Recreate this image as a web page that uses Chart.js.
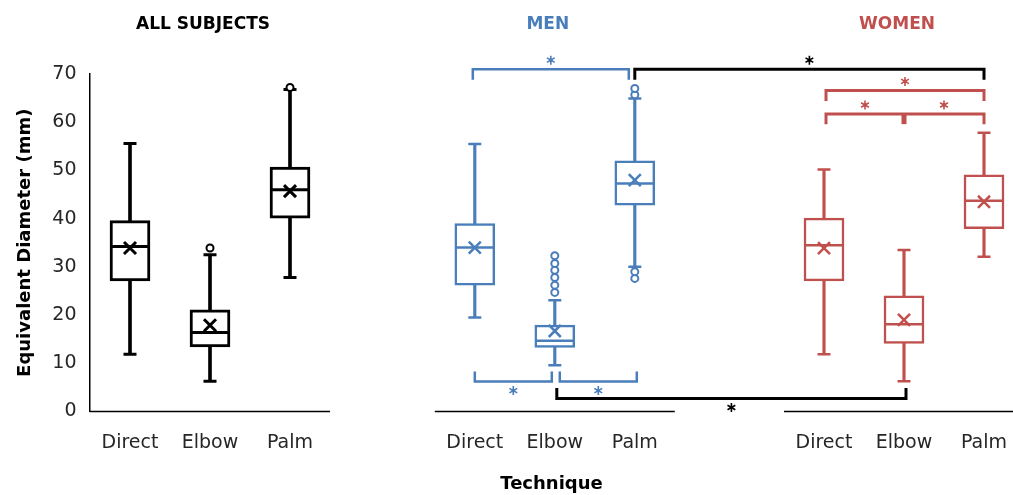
<!DOCTYPE html>
<html>
<head>
<meta charset="utf-8">
<script src="https://cdn.jsdelivr.net/npm/chart.js@4.4.0/dist/chart.umd.min.js"></script>
<style>
  html, body { margin: 0; padding: 0; background: #fff; }
  #wrap { position: relative; width: 1013px; height: 495px; }
</style>
</head>
<body>
<div id="wrap"><canvas id="chart"></canvas></div>
<script>
// values
// order: all subjects (Direct, Elbow, Palm), men (...), women (...)
let groups = ["ALL SUBJECTS", "MEN", "WOMEN"];
let techniques = ["Direct", "Elbow", "Palm"];
let whiskerLow = [11.9, 6.3, 27.8, 19.5, 9.6, 30.0, 11.9, 6.3, 32.1];
let quartile1 = [27.1, 13.4, 40.1, 26.2, 13.3, 42.8, 27.1, 14.1, 37.9];
let medians = [34.2, 16.4, 46.0, 34.0, 14.7, 47.3, 34.5, 18.1, 43.7];
let quartile3 = [39.6, 21.1, 50.7, 39.0, 17.9, 52.0, 40.1, 24.0, 49.1];
let whiskerHigh = [55.6, 32.5, 66.8, 55.5, 23.1, 64.9, 50.2, 33.5, 57.8];
let means = [33.9, 17.9, 45.7, 34.0, 16.7, 48.0, 33.9, 19.0, 43.5];
let outliers = [
  [], [33.9], [67.2],
  [], [24.7, 26.2, 27.8, 29.3, 30.7, 32.3], [27.6, 29.0, 65.7, 67.0],
  [], [], [],
];
let yTicks = [0, 10, 20, 30, 40, 50, 60, 70];

// significance brackets: box index from / to, level (mm) and tip (mm)
let brackets = [
  { from: 3, to: 5, level: 71.0, tip: 68.8, group: 1, dx: [-2, -6], up: true },
  { from: 5, to: 8, level: 71.0, tip: 68.8, group: 0, dx: [0, 0], up: true },
  { from: 6, to: 8, level: 66.6, tip: 64.4, group: 2, dx: [2, 0], up: true },
  { from: 6, to: 8, level: 61.7, tip: 59.6, group: 2, dx: [2, 0], up: true, mid: 7 },
  { from: 3, to: 4, level: 6.2, tip: 8.3, group: 1, dx: [0, -3], up: false },
  { from: 4, to: 5, level: 6.2, tip: 8.3, group: 1, dx: [5, 2], up: false },
  { from: 4, to: 7, level: 2.7, tip: 4.9, group: 0, dx: [2, 2], up: false },
];

let colors = ["#000000", "#4a7ebb", "#c0504d"];
let lineWidths = [3, 2.5, 2.5];
let groupStart = [0, 4.31, 8.675];

let xs = [];
for (let g = 0; g < 3; g++) {
  for (let t = 0; t < 3; t++) {
    xs.push(groupStart[g] + 0.5 + t);
  }
}

let datasets = [];
for (let g = 0; g < 3; g++) {
  let idx = [3 * g, 3 * g + 1, 3 * g + 2];
  let color = colors[g];
  let w = lineWidths[g];
  datasets.push({
    type: "bar",
    data: idx.map((i) => ({ x: xs[i], y: [whiskerLow[i], whiskerHigh[i]] })),
    backgroundColor: color,
    borderWidth: 0,
    barThickness: w,
    grouped: false,
    order: 5,
  });
  datasets.push({
    type: "bar",
    data: idx.map((i) => ({ x: xs[i], y: [quartile1[i], quartile3[i]] })),
    backgroundColor: "#ffffff",
    borderColor: color,
    borderWidth: w,
    borderSkipped: false,
    barThickness: 40,
    grouped: false,
    order: 4,
  });
  let caps = [];
  for (let i of idx) {
    caps.push({ x: xs[i], y: whiskerLow[i] });
    caps.push({ x: xs[i], y: whiskerHigh[i] });
  }
  datasets.push({
    type: "scatter",
    data: caps,
    pointStyle: "line",
    pointRadius: 6.5,
    pointBorderWidth: w,
    pointBorderColor: color,
    order: 3,
  });
  datasets.push({
    type: "scatter",
    data: idx.map((i) => ({ x: xs[i], y: medians[i] })),
    pointStyle: "line",
    pointRadius: 19,
    pointBorderWidth: w,
    pointBorderColor: color,
    order: 2,
  });
  datasets.push({
    type: "scatter",
    data: idx.map((i) => ({ x: xs[i], y: means[i] })),
    pointStyle: "crossRot",
    pointRadius: 8.5,
    pointBorderWidth: w,
    pointBorderColor: color,
    order: 1,
  });
  let outs = [];
  for (let i of idx) {
    for (let v of outliers[i]) {
      outs.push({ x: xs[i], y: v });
    }
  }
  datasets.push({
    type: "scatter",
    data: outs,
    pointStyle: "circle",
    pointRadius: 3.5,
    pointBackgroundColor: "#ffffff",
    pointBorderWidth: 2,
    pointBorderColor: color,
    order: 0,
  });
}

function drawStar(ctx, x, y, color) {
  ctx.save();
  ctx.strokeStyle = color;
  ctx.lineWidth = 1.6;
  ctx.beginPath();
  for (let k = 0; k < 3; k++) {
    let a = (Math.PI / 3) * k + Math.PI / 2;
    ctx.moveTo(x - Math.cos(a) * 4.5, y - Math.sin(a) * 4.5);
    ctx.lineTo(x + Math.cos(a) * 4.5, y + Math.sin(a) * 4.5);
  }
  ctx.stroke();
  ctx.fillStyle = color;
  ctx.beginPath();
  ctx.arc(x, y, 1.8, 0, Math.PI * 2);
  ctx.fill();
  ctx.restore();
}

let extras = {
  id: "extras",
  afterDraw(chart) {
    let ctx = chart.ctx;
    let xScale = chart.scales.x;
    let yScale = chart.scales.y;
    ctx.save();
    // x axis pieces, one for each group
    ctx.strokeStyle = "#000";
    ctx.lineWidth = 1.5;
    let y0 = yScale.getPixelForValue(0);
    for (let g = 0; g < 3; g++) {
      let a = xScale.getPixelForValue(groupStart[g]);
      let b = Math.min(xScale.getPixelForValue(groupStart[g] + 3), chart.width);
      ctx.beginPath();
      ctx.moveTo(a, y0);
      ctx.lineTo(b, y0);
      ctx.stroke();
    }
    // group titles
    ctx.font = "bold 17px 'DejaVu Sans'";
    ctx.textAlign = "center";
    ctx.textBaseline = "middle";
    for (let g = 0; g < 3; g++) {
      ctx.fillStyle = colors[g];
      ctx.fillText(groups[g], xScale.getPixelForValue(xs[3 * g + 1]) - 7, 25);
    }
    // brackets
    ctx.lineJoin = "miter";
    ctx.lineCap = "butt";
    for (let br of brackets) {
      let color = colors[br.group];
      let x1 = xScale.getPixelForValue(xs[br.from]) + br.dx[0];
      let x2 = xScale.getPixelForValue(xs[br.to]) + br.dx[1];
      let yl = yScale.getPixelForValue(br.level);
      let yt = yScale.getPixelForValue(br.tip);
      ctx.strokeStyle = color;
      ctx.lineWidth = br.group == 1 ? 2.5 : 3;
      ctx.beginPath();
      ctx.moveTo(x1, yt);
      ctx.lineTo(x1, yl);
      ctx.lineTo(x2, yl);
      ctx.lineTo(x2, yt);
      ctx.stroke();
      let sy = br.up ? yl - 9 : yl + 9;
      if (br.mid !== undefined) {
        let xm = xScale.getPixelForValue(xs[br.mid]);
        ctx.lineWidth = 5;
        ctx.beginPath();
        ctx.moveTo(xm, yl);
        ctx.lineTo(xm, yt);
        ctx.stroke();
        drawStar(ctx, (x1 + xm) / 2, sy, color);
        drawStar(ctx, (xm + x2) / 2, sy, color);
      } else {
        drawStar(ctx, (x1 + x2) / 2, sy, color);
      }
    }
    ctx.restore();
  },
};

let tickFont = { family: "'DejaVu Sans'", size: 19 };
let titleFont = { family: "'DejaVu Sans'", size: 18, weight: "bold" };

let chart = new Chart(document.getElementById("chart"), {
  type: "bar",
  data: { datasets: datasets },
  options: {
    responsive: true,
    maintainAspectRatio: false,
    animation: false,
    events: [],
    layout: { autoPadding: false, padding: { top: 74, left: 0, right: 0, bottom: 0 } },
    plugins: { legend: { display: false }, tooltip: { enabled: false } },
    scales: {
      x: {
        type: "linear",
        min: 0,
        max: 11.5375,
        offset: false,
        grid: {
          display: true,
          drawOnChartArea: false,
          drawTicks: true,
          tickLength: 20,
          color: "rgba(0,0,0,0)",
          offset: false,
        },
        border: { display: false },
        afterBuildTicks: (scale) => {
          scale.ticks = xs.map((v) => ({ value: v }));
        },
        afterFit: (scale) => {
          scale.height = 83.5;
        },
        ticks: {
          autoSkip: false,
          maxRotation: 0,
          padding: 0,
          color: "#262626",
          font: tickFont,
          callback: (value, index) => techniques[index % 3],
        },
        title: {
          display: true,
          text: "Technique",
          color: "#000",
          font: titleFont,
          padding: { top: 0, bottom: 0 },
        },
      },
      y: {
        min: 0,
        max: 70,
        grid: { display: false, drawTicks: false },
        border: { display: true, color: "#000", width: 1.5 },
        afterBuildTicks: (scale) => {
          scale.ticks = yTicks.map((v) => ({ value: v }));
        },
        afterFit: (scale) => {
          scale.width = 90;
        },
        ticks: { padding: 13.5, color: "#262626", font: tickFont },
        title: {
          display: true,
          text: "Equivalent Diameter (mm)",
          color: "#000",
          font: titleFont,
          padding: { top: 15, bottom: 0 },
        },
      },
    },
  },
  plugins: [extras],
});
</script>
</body>
</html>
